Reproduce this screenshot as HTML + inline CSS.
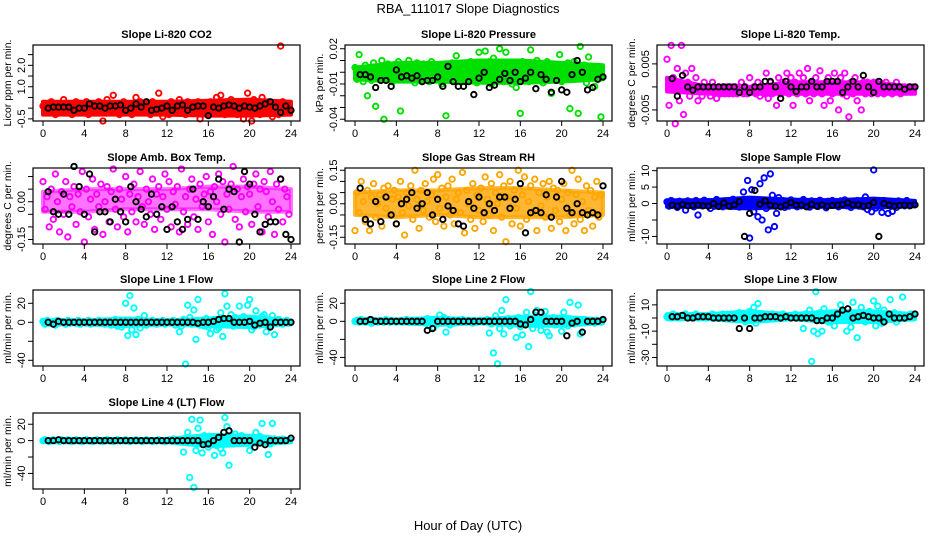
<!DOCTYPE html>
<html><head><meta charset="utf-8"><style>
body{margin:0;background:#fff;}
svg{display:block;font-family:"Liberation Sans",sans-serif;}
</style></head><body>
<svg id="chart" width="936" height="540" viewBox="0 0 936 540" xmlns="http://www.w3.org/2000/svg">
<rect x="0" y="0" width="936" height="540" fill="#fff"/>
<text x="468" y="13" text-anchor="middle" font-size="13">RBA_111017  Slope Diagnostics</text>
<text x="468" y="530" text-anchor="middle" font-size="13">Hour of Day (UTC)</text>
</svg>
<script>
const xTicks=[0,4,8,12,16,20,24];
const bandHours=[0,4,8,12,16,20,24];
const colorStepHours=0.2;
const blackStepHours=0.5;

const co2Color=[0.1,-0.2,0.2,-0.1,0.3,0.0,-0.3,0.2,0.1,-0.2,0.4,0.0,-0.1,0.2,-0.3,0.1,0.3,-0.2,0.0,0.2,
-0.1,0.3,-0.3,0.1,0.2,-0.2,0.0,0.3,-0.1,-0.6,0.2,0.4,-0.2,0.1,0.6,-0.1,0.2,-0.3,0.0,0.3,
-0.2,0.1,0.2,-0.3,0.0,0.5,-0.1,0.3,-0.2,0.1,0.0,0.2,-0.3,0.3,0.1,-0.2,0.7,0.0,-0.4,0.2,
0.1,-0.3,0.3,0.0,-0.2,0.2,0.4,-0.1,0.1,-0.3,0.3,0.0,-0.2,0.2,-0.1,0.3,-0.5,0.1,0.2,-0.2,
0.0,0.3,-0.1,0.2,0.5,-0.2,0.6,0.1,-0.3,0.3,0.0,0.4,-0.1,0.2,-0.3,0.1,0.3,-0.5,0.2,0.7,
-0.1,-0.6,0.4,0.0,0.2,-0.3,0.5,0.1,-0.2,0.3,0.0,-0.4,0.2,0.1,-0.3,2.9,0.3,-0.1,0.2,0.0];
const co2Black=[0.0,0.05,0.05,0.05,0.05,-0.1,0.0,0.0,0.2,0.1,0.1,0.0,
0.1,0.1,0.15,-0.1,0.0,0.2,0.05,0.3,-0.1,-0.05,0.0,0.1,
-0.1,0.1,0.15,-0.1,0.05,0.1,0.1,-0.35,0.05,0.0,0.1,0.15,
0.1,0.0,0.1,0.05,0.0,0.1,0.2,0.3,0.05,-0.2,0.1,-0.1];
const co2BandLo=[-0.3,-0.3,-0.3,-0.3,-0.35,-0.35,-0.3];
const co2BandHi=[0.3,0.3,0.3,0.3,0.35,0.4,0.3];

const presColor=[0.004,-0.006,0.015,0.002,-0.008,0.006,-0.02,0.0,-0.007,0.008,-0.029,0.003,-0.005,0.01,-0.04,0.001,0.007,-0.004,-0.008,0.004,
-0.002,0.009,-0.033,0.006,-0.005,0.002,0.01,-0.006,0.003,-0.009,0.008,0.0,-0.004,0.007,-0.002,0.005,-0.008,0.009,-0.003,0.002,
-0.006,0.006,-0.01,0.004,-0.037,0.002,-0.005,0.008,-0.003,0.014,-0.006,0.004,-0.008,0.007,0.001,-0.005,0.009,-0.002,0.005,-0.009,
0.017,0.004,-0.007,0.018,-0.003,0.009,-0.01,0.012,0.005,-0.006,0.02,0.003,-0.008,0.017,-0.004,0.007,-0.01,0.004,-0.013,0.002,
-0.035,0.009,-0.004,0.006,-0.008,0.019,0.003,-0.006,0.01,-0.002,0.007,-0.009,0.005,0.009,-0.003,-0.018,0.006,-0.005,0.002,0.015,
-0.008,0.004,-0.006,0.008,-0.031,0.002,0.009,-0.005,-0.035,0.022,-0.004,0.006,-0.009,0.013,-0.002,0.005,-0.012,0.003,-0.005,-0.038];
const presBlack=[-0.002,-0.002,-0.004,-0.013,-0.007,-0.007,-0.012,0.002,-0.004,-0.003,-0.005,-0.003,
-0.008,-0.007,-0.007,-0.004,-0.012,0.005,-0.008,-0.012,-0.012,-0.008,-0.019,-0.005,
0.0,-0.013,-0.011,-0.006,-0.001,-0.007,0.0,-0.008,-0.005,0.0,-0.014,-0.002,
-0.006,-0.017,-0.007,-0.015,-0.017,-0.002,0.01,0.0,-0.015,-0.013,-0.006,-0.004];
const presBandLo=[-0.006,-0.008,-0.008,-0.009,-0.009,-0.008,-0.006];
const presBandHi=[0.004,0.008,0.008,0.01,0.01,0.008,0.006];

const tempColor=[0.006,-0.004,0.009,0.002,-0.008,0.004,-0.003,0.009,-0.006,0.003,0.001,-0.002,0.004,-0.001,0.002,-0.003,0.0,-0.002,0.001,-0.001,
0.0,-0.002,0.001,-0.001,-0.0025,0.0,-0.0015,0.0,-0.0015,0.0,-0.0015,0.0,-0.0015,0.0,-0.0015,0.0,0.001,-0.0015,0.0,-0.0015,
0.002,-0.001,0.0,-0.0015,0.001,-0.002,0.0,-0.0015,0.003,-0.0025,0.001,-0.0015,0.0,-0.004,0.002,-0.0015,0.001,-0.001,0.003,-0.0015,
0.002,-0.004,0.001,-0.0015,0.003,-0.001,0.002,-0.0015,0.004,-0.003,0.001,-0.0015,0.002,0.0,0.0035,-0.0015,-0.004,0.001,0.002,-0.003,
-0.0015,0.003,0.001,-0.005,0.002,-0.0015,0.003,-0.002,-0.0065,0.001,-0.0015,0.002,-0.003,0.0,-0.005,0.001,-0.0015,0.001,0.0,-0.0015,
0.001,0.0,-0.0015,0.001,0.0,-0.0015,0.001,0.0,0.0,-0.0015,0.0,0.001,0.0,-0.0015,0.0,0.0,-0.001,0.0,-0.0005,0.0];
const tempBlack=[0.0018,-0.002,0.0025,0.0,-0.0007,0.0,0.0,0.0,0.0,0.0,0.0,0.0,
0.0,-0.0012,0.0,-0.0012,0.0,0.0,0.0012,0.0012,0.0,-0.0025,0.0012,0.0,
-0.001,0.0,0.0,0.0012,0.0,0.0,0.0012,0.0012,0.0012,-0.0012,0.0,0.0012,
0.0,0.0025,0.0,-0.0012,0.0012,0.0,0.0,0.0,0.0,-0.0005,0.0,0.0];
const tempBandLo=[-0.001,-0.0015,-0.0015,-0.0015,-0.0015,-0.0015,-0.0015];
const tempBandHi=[0.002,0.0,0.0,0.001,0.001,0.001,0.0];

const ambColor=[0.08,-0.03,0.02,-0.10,0.05,-0.07,0.11,0.00,-0.12,0.04,-0.05,0.08,-0.14,0.02,-0.02,0.06,-0.09,0.03,-0.04,0.12,
-0.16,0.05,-0.06,0.01,0.09,-0.11,0.03,-0.02,0.07,-0.13,0.00,0.06,-0.08,0.04,0.13,-0.03,-0.10,0.05,0.01,-0.06,
0.10,-0.12,0.03,-0.04,0.07,-0.08,0.02,0.12,-0.02,-0.09,0.05,0.00,-0.05,0.09,-0.11,0.03,0.06,-0.07,0.02,0.11,
-0.03,0.08,-0.10,0.04,-0.01,0.06,-0.12,0.13,-0.04,0.02,-0.09,0.05,0.09,-0.06,0.01,-0.11,0.07,-0.02,0.03,0.10,
-0.08,0.04,-0.13,0.06,0.00,0.11,-0.05,0.08,-0.16,0.03,-0.03,0.07,0.14,-0.07,0.05,-0.10,0.02,0.09,-0.04,0.06,
0.03,-0.09,0.07,0.11,-0.02,0.05,-0.12,0.08,0.04,-0.06,0.12,0.00,-0.13,0.07,-0.03,0.09,-0.08,0.05,0.02,-0.05];
const ambBlack=[0.04,-0.04,-0.05,0.03,-0.05,0.14,0.06,-0.05,0.11,-0.12,-0.04,-0.04,
-0.08,0.01,-0.04,-0.08,0.06,0.00,-0.03,-0.06,0.03,-0.05,-0.02,-0.11,
-0.02,-0.08,-0.11,-0.07,0.05,-0.07,0.00,-0.02,0.02,0.09,-0.03,0.05,
0.04,-0.16,0.12,0.07,-0.05,-0.12,-0.09,-0.08,-0.08,0.09,-0.13,-0.15];
const ambBandLo=[-0.04,-0.04,-0.03,-0.03,-0.03,-0.04,-0.04];
const ambBandHi=[0.04,0.05,0.05,0.05,0.06,0.06,0.05];

const rhColor=[-0.12,0.05,-0.04,0.10,0.01,-0.08,0.06,-0.12,0.03,0.09,-0.06,0.00,0.04,-0.10,0.07,-0.02,0.08,-0.05,0.02,0.06,
-0.09,0.03,0.10,-0.04,-0.14,0.05,-0.01,0.08,-0.07,0.15,0.02,-0.11,0.06,-0.03,0.09,0.01,-0.06,0.04,0.11,-0.08,
0.13,-0.02,0.07,-0.10,0.03,0.08,-0.05,0.11,-0.09,0.02,0.05,-0.04,0.14,-0.13,0.06,0.00,-0.07,0.09,-0.11,0.04,
-0.03,0.07,-0.08,0.12,0.02,-0.05,0.09,-0.12,0.05,0.00,0.13,-0.06,0.08,-0.17,0.03,0.10,-0.09,0.06,-0.02,0.15,
-0.10,0.04,0.12,-0.07,0.01,0.08,-0.04,0.11,-0.12,0.05,-0.01,0.09,-0.06,0.03,0.10,-0.11,0.07,-0.03,0.06,-0.08,
0.02,0.09,-0.12,0.05,-0.05,0.15,-0.09,0.04,0.11,-0.07,0.01,-0.12,0.08,-0.03,0.06,-0.10,0.03,0.10,-0.06,0.04];
const rhBlack=[0.07,-0.07,-0.09,0.01,-0.08,0.03,-0.05,-0.09,0.00,0.02,0.05,-0.02,
0.00,0.05,-0.05,0.02,-0.07,-0.01,-0.03,-0.09,-0.10,0.01,-0.02,0.03,
-0.04,0.00,-0.03,0.03,0.03,-0.02,0.02,0.09,-0.13,-0.04,-0.03,-0.04,
0.04,-0.06,0.03,0.10,-0.02,-0.04,0.00,-0.04,-0.05,-0.04,-0.05,0.08];
const rhBandLo=[-0.05,-0.06,-0.05,-0.06,-0.06,-0.06,-0.05];
const rhBandHi=[0.05,0.06,0.06,0.07,0.07,0.06,0.05];

const sampleColor=[0.5,-0.8,0.9,-0.3,0.2,-1.2,0.7,-0.5,0.3,-2,0.8,-0.6,0.4,-1.0,0.9,-3.5,0.2,-0.7,1.0,-0.4,
0.6,-1.5,0.3,-0.8,1.2,-0.2,0.5,-1.0,0.8,-0.5,0.3,-0.9,1.3,-0.4,0.6,-1.1,0.9,3.5,-0.3,7,
-10.5,4.2,-2.5,1.2,-4,6,-5,7.8,-1.5,-8,9,2.5,-7,-3,1.8,-0.6,0.9,-1.2,0.4,-0.8,
1.1,-0.5,0.7,-1.0,0.3,-0.7,1.2,-0.3,0.5,-1.1,0.8,-0.4,0.6,-0.9,1.0,-0.2,0.4,-1.3,0.7,-0.6,
0.9,-0.5,0.3,-1.0,0.8,-0.4,1.1,-0.7,0.2,-1.2,0.6,-0.3,0.9,-0.8,0.4,-1.0,2.0,-1.8,0.5,-2.5,
10.2,-1.4,0.6,-0.5,-2.7,0.9,-0.4,-3,0.7,-2.4,0.5,-1.2,0.8,-0.3,0.4,-0.7,0.9,-0.5,0.3,-0.2];
const sampleBlack=[-0.5,-0.8,-0.3,-0.7,-0.6,-0.5,-0.7,-0.8,0.0,-0.9,0.2,-0.8,
-0.4,0.6,-10,-3,4,-0.2,0.8,-0.5,-0.8,-1.0,-0.5,0.3,
-0.5,-0.4,-1.0,-0.2,-0.8,-0.4,-0.8,-0.6,-0.5,-0.3,0.2,-0.4,
-0.4,-0.8,-0.6,0.3,-10,0.0,-0.5,-0.8,-0.6,-0.5,-0.7,-0.4];
const sampleBandLo=[-1,-1,-1.5,-1,-1,-1.2,-0.8];
const sampleBandHi=[1,1,1.8,1.2,1,1.5,0.8];

const line1Color=[1,-2,2,-1,0,1,-3,2,-1,1,0,-2,2,-1,1,0,-1,2,-2,1,
0,-1,2,-2,1,-1,0,2,-1,1,-2,0,1,-3,-2,3,-4,2,-5,1,
20,-14,28,-8,15,-13,3,-6,0,7,-3,1,-1,2,0,-2,1,-1,2,-2,
0,1,-1,2,-3,1,-10,-4,3,-44,18,5,-2,13,-18,24,-3,2,-4,4,
-5,-12,1,3,-8,-6,10,-15,30,17,-2,8,-4,5,1,17,-3,6,-2,18,
24,-8,-5,12,3,-3,6,8,-10,-4,2,7,-13,-1,3,0,-2,1,2,-1];
const line1Black=[0,-2,1,0,0,0,0,0,0,0,0,0,
0,0,0,0,0,0,0,0,0,0,0,0,
0,0,0,0,0,-1,0,0,1,3,4,4,
0,0,0,1,-3,-1,0,-5,0,0,0,0];
const line1BandLo=[-2,-2,-4,-2,-4,-5,-2];
const line1BandHi=[2,2,4,2,4,6,2];

const line2Color=[0,1,-1,2,0,-1,1,0,-2,1,0,-1,1,0,-1,2,0,-1,1,0,
-1,0,1,-1,0,2,-1,0,1,-1,0,1,0,-1,-2,3,-5,2,-7,1,
-3,7,-1,4,-12,2,-4,1,-2,0,1,-1,2,0,-1,1,0,-2,1,-1,
0,1,-1,0,2,-13,-3,-35,6,-47,-8,12,-14,24,3,-5,-2,-3,-18,4,
-6,-15,3,10,-28,33,-8,2,12,-4,-10,5,11,-12,-16,1,4,-4,-3,2,
-11,10,3,-5,21,1,-3,2,18,-14,1,2,0,-1,1,0,-2,1,0,-1];
const line2Black=[0,0,2,0,0,0,0,0,0,0,0,0,
0,-10,-8,0,0,0,0,0,0,0,0,0,
0,0,0,0,0,0,0,-3,-4,2,10,10,
0,0,0,0,-16,-2,0,-12,0,0,0,2];
const line2BandLo=[-2,-2,-4,-2,-5,-5,-2];
const line2BandHi=[2,2,4,2,5,5,2];

const line3Color=[1,2,0,3,1,2,0,1,2,3,1,0,2,1,3,0,1,2,1,0,
2,1,3,0,1,2,0,3,1,2,1,0,2,3,1,4,-1,3,-3,2,
5,-2,8,-4,11,0,3,-1,2,1,0,3,1,2,0,1,3,2,0,1,
2,1,3,0,2,1,-8,3,0,6,-33,-10,20,-12,4,-10,7,1,-3,-3,
2,-6,4,0,10,5,-2,-10,4,-7,12,0,-15,3,8,1,-3,2,5,0,
13,-6,9,2,-4,6,0,3,14,-1,4,-3,1,2,16,0,2,1,3,0];
const line3Black=[1,1,2,0,0,1,1,1,0,0,0,0,
0,-8,0,-8,0,0,1,1,1,0,1,0,
0,0,0,0,-2,-2,0,0,3,6,7,0,
1,2,1,0,0,-3,3,0,0,0,1,3];
const line3BandLo=[-1,-1,-3,-1,-3,-3,-1];
const line3BandHi=[3,3,5,3,5,5,3];

const line4Color=[0,1,0,-1,0,1,0,0,-1,1,0,0,1,0,-1,0,1,0,0,-1,
0,1,0,0,-1,0,1,0,0,-1,0,1,0,0,-1,0,1,0,0,0,
1,0,-1,0,0,1,0,0,-1,0,1,0,0,-1,0,0,1,0,0,-1,
0,1,0,2,-1,0,1,0,-14,3,10,-45,26,-57,-12,15,25,-15,6,-3,
-8,2,5,-18,-6,3,-10,-15,28,17,-30,5,-4,8,2,-2,6,0,-3,-1,
-12,4,-1,10,-2,5,21,3,0,-17,-4,21,2,1,0,-1,2,1,0,0];
const line4Black=[0,0,1,0,0,0,0,0,0,0,0,0,
0,0,0,0,0,0,0,0,0,0,0,0,
0,0,0,0,0,0,-5,-4,0,4,10,12,
0,0,0,0,-8,-3,-5,0,0,0,0,3];
const line4BandLo=[-2,-2,-2,-2,-7,-5,-2];
const line4BandHi=[2,2,2,2,7,6,2];

const co2Ticks=[-0.5,0,0.5,1,1.5,2,2.5], co2Labels=["-0.5","","","1.0","","2.0",""];
const presTicks=[0.02,0.01,0,-0.01,-0.02,-0.03,-0.04], presLabels=["0.02","","","-0.01","","","-0.04"];
const tempTicks=[0.005,0,-0.005], tempLabels=["0.005","","-0.005"];
const ambTicks=[0.1,0.05,0,-0.05,-0.1,-0.15], ambLabels=["","","0.00","","","-0.15"];
const rhTicks=[0.15,0.1,0.05,0,-0.05,-0.1,-0.15], rhLabels=["0.15","","","0.00","","","-0.15"];
const sampleTicks=[10,5,0,-5,-10], sampleLabels=["10","5","0","","-10"];
const line1Ticks=[20,0,-20,-40], line1Labels=["20","0","","-40"];
const line2Ticks=[20,0,-20,-40], line2Labels=["20","0","","-40"];
const line3Ticks=[10,0,-10,-20,-30], line3Labels=["10","","-10","","-30"];
const line4Ticks=[20,0,-20,-40], line4Labels=["20","0","","-40"];

const NS="http://www.w3.org/2000/svg";
const svg=document.getElementById('chart');
function mk(tag,attrs,parent){const e=document.createElementNS(NS,tag);for(const k in attrs)e.setAttribute(k,attrs[k]);(parent||svg).appendChild(e);return e;}

const colLeft=[33,345,657], rowTop=[45,168,290,413], boxW=267, boxH=76;
const panels=[
 {key:'co2',title:'Slope Li-820 CO2',ylab:'Licor ppm per min.',c:0,r:0,ymin:-0.6,ymax:2.95,color:'#ff0000',col:co2Color,blk:co2Black,lo:co2BandLo,hi:co2BandHi,ticks:co2Ticks,labels:co2Labels},
 {key:'pressure',title:'Slope Li-820 Pressure',ylab:'kPa per min.',c:1,r:0,ymin:-0.0415,ymax:0.0232,color:'#00e000',col:presColor,blk:presBlack,lo:presBandLo,hi:presBandHi,ticks:presTicks,labels:presLabels},
 {key:'li820-temp',title:'Slope Li-820 Temp.',ylab:'degrees C per min.',c:2,r:0,ymin:-0.0074,ymax:0.0091,color:'#ff00ff',col:tempColor,blk:tempBlack,lo:tempBandLo,hi:tempBandHi,ticks:tempTicks,labels:tempLabels},
 {key:'amb-box-temp',title:'Slope Amb. Box Temp.',ylab:'degrees C per min.',c:0,r:1,ymin:-0.168,ymax:0.134,color:'#ff00ff',col:ambColor,blk:ambBlack,lo:ambBandLo,hi:ambBandHi,ticks:ambTicks,labels:ambLabels,bandOpacity:0.55},
 {key:'gas-stream-rh',title:'Slope Gas Stream RH',ylab:'percent per min.',c:1,r:1,ymin:-0.18,ymax:0.16,color:'#ffa500',col:rhColor,blk:rhBlack,lo:rhBandLo,hi:rhBandHi,ticks:rhTicks,labels:rhLabels,bandOpacity:0.8},
 {key:'sample-flow',title:'Slope Sample Flow',ylab:'ml/min per min.',c:2,r:1,ymin:-12.3,ymax:10.8,color:'#0000ff',col:sampleColor,blk:sampleBlack,lo:sampleBandLo,hi:sampleBandHi,ticks:sampleTicks,labels:sampleLabels},
 {key:'line1-flow',title:'Slope Line 1 Flow',ylab:'ml/min per min.',c:0,r:2,ymin:-46,ymax:34,color:'#00ffff',col:line1Color,blk:line1Black,lo:line1BandLo,hi:line1BandHi,ticks:line1Ticks,labels:line1Labels},
 {key:'line2-flow',title:'Slope Line 2 Flow',ylab:'ml/min per min.',c:1,r:2,ymin:-49.5,ymax:34.7,color:'#00ffff',col:line2Color,blk:line2Black,lo:line2BandLo,hi:line2BandHi,ticks:line2Ticks,labels:line2Labels},
 {key:'line3-flow',title:'Slope Line 3 Flow',ylab:'ml/min per min.',c:2,r:2,ymin:-36.5,ymax:21.3,color:'#00ffff',col:line3Color,blk:line3Black,lo:line3BandLo,hi:line3BandHi,ticks:line3Ticks,labels:line3Labels},
 {key:'line4-flow',title:'Slope Line 4 (LT) Flow',ylab:'ml/min per min.',c:0,r:3,ymin:-59,ymax:33.7,color:'#00ffff',col:line4Color,blk:line4Black,lo:line4BandLo,hi:line4BandHi,ticks:line4Ticks,labels:line4Labels}
];

panels.forEach(p=>{
  const L=colLeft[p.c], T=rowTop[p.r], B=T+boxH;
  const xs=h=>L+10+h*(248/24);
  const ys=v=>T+(p.ymax-v)/(p.ymax-p.ymin)*boxH;
  const g=mk('g',{});
  
  
  const t=mk('text',{x:L+boxW/2,y:T-7,'text-anchor':'middle','font-size':'11','font-weight':'bold'},g);
  t.textContent=p.title;
  
  
  const yl=mk('text',{x:0,y:0,'text-anchor':'middle','font-size':'10.5',transform:`translate(${L-22},${T+boxH/2}) rotate(-90)`},g);
  yl.textContent=p.ylab;
  
  
  // dense data envelope
  let d='';
  bandHours.forEach((h,i)=>{d+=(i?'L':'M')+xs(h).toFixed(1)+','+ys(p.hi[i]).toFixed(1);});
  for(let i=bandHours.length-1;i>=0;i--){d+='L'+xs(bandHours[i]).toFixed(1)+','+ys(p.lo[i]).toFixed(1);}
  d+='Z';
  const band=mk('path',{d:d,fill:p.color,stroke:p.color,'stroke-width':4,'stroke-linejoin':'round','fill-opacity':p.bandOpacity||1,'stroke-opacity':p.bandOpacity||1},g);
  
  
  const pts=mk('g',{},g);
  
  
  p.col.forEach((v,i)=>{
    const c=mk('circle',{cx:xs(i*colorStepHours),cy:ys(v),r:2.7,fill:'none',stroke:p.color,'stroke-width':1.9},pts);
    
    
  });
  p.blk.forEach((v,i)=>{
    const c=mk('circle',{cx:xs((i+1)*blackStepHours),cy:ys(v),r:2.7,fill:'none',stroke:'#000','stroke-width':1.9},pts);
    
    
  });
  const box=mk('rect',{x:L,y:T,width:boxW,height:boxH,fill:'none',stroke:'#000','stroke-width':1.2},g);
  
  
  xTicks.forEach(h=>{
    mk('line',{x1:xs(h),x2:xs(h),y1:B,y2:B+5,stroke:'#000'},g);
    const tl=mk('text',{x:xs(h),y:B+16,'text-anchor':'middle','font-size':'11'},g);
    tl.textContent=h;
    
    
  });
  p.ticks.forEach((v,i)=>{
    const y=ys(v);
    mk('line',{x1:L-5,x2:L,y1:y,y2:y,stroke:'#000'},g);
    if(p.labels[i]){
      const tl=mk('text',{x:0,y:0,'text-anchor':'middle','font-size':'11',transform:`translate(${L-8},${y}) rotate(-90)`},g);
      tl.textContent=p.labels[i];
      
      
    }
  });
});
</script>
</body></html>
